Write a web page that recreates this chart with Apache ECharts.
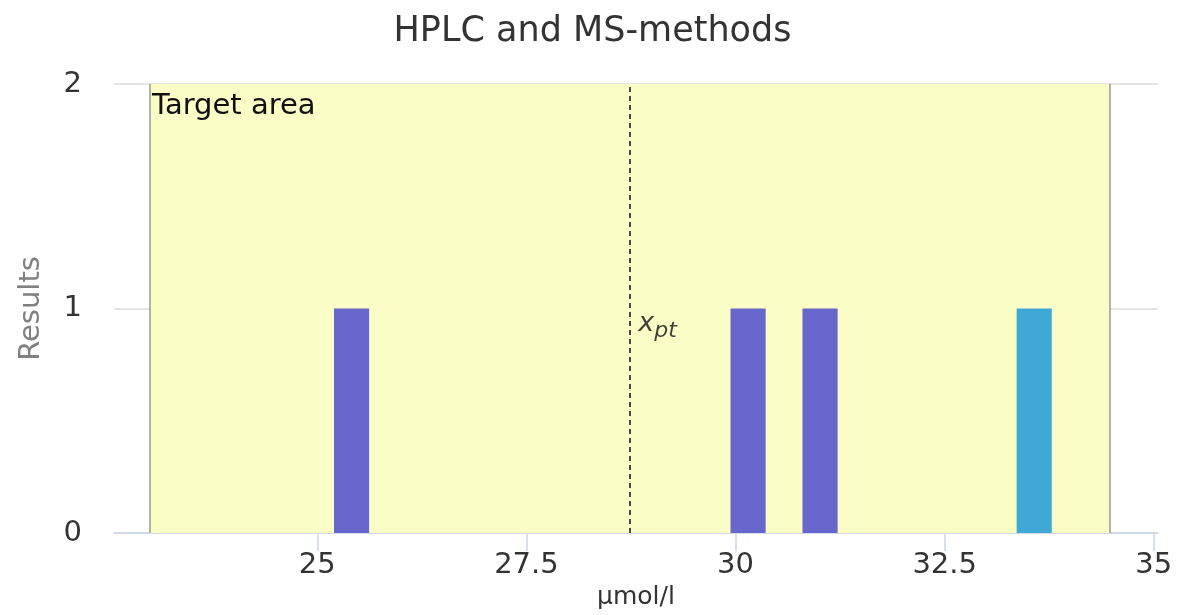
<!DOCTYPE html>
<html>
<head>
<meta charset="utf-8">
<title>HPLC and MS-methods</title>
<script src="https://cdn.jsdelivr.net/npm/echarts@6/dist/echarts.min.js"></script>
<style>
  html, body { margin: 0; padding: 0; background: #fff; }
  #main { width: 1185px; height: 615px; }
</style>
</head>
<body>
<div id="main"></div>
<script>
// bar centres (µmol/l) and number of results in each
var barCenters = [25.41, 30.15, 31.01, 33.57];
var barCounts = [1, 1, 1, 1];
var barColors = ['#6666cc', '#6666cc', '#6666cc', '#40a8d4'];
var barWidthUnits = 0.42;

var targetArea = [23.0, 34.47];
var xpt = 28.73;
var xTicks = [25, 27.5, 30, 32.5, 35];

var barData = barCenters.map(function (c, i) {
  return { value: [c, barCounts[i]], itemStyle: { color: barColors[i] } };
});

var chart = echarts.init(document.getElementById('main'));

var option = {
  animation: false,
  textStyle: { fontFamily: 'DejaVu Sans' },
  title: {
    text: 'HPLC and MS-methods',
    left: 'center',
    top: 9,
    textStyle: { fontSize: 35, fontWeight: 'normal', color: '#333', fontFamily: 'DejaVu Sans' }
  },
  grid: { left: 114, right: 27, top: 84, bottom: 80 },
  xAxis: {
    type: 'value',
    min: 22.57,
    max: 35.05,
    name: 'µmol/l',
    nameLocation: 'middle',
    nameGap: 52,
    nameTextStyle: { fontSize: 25, color: '#333' },
    axisLine: { show: true, lineStyle: { color: '#ccd6eb', width: 1.5 } },
    axisTick: { show: true, customValues: xTicks, length: 18, lineStyle: { color: '#ccd6eb', width: 1.5 } },
    axisLabel: {
      customValues: xTicks,
      fontSize: 29,
      color: '#333',
      margin: 18,
      formatter: function (v) { return String(v); }
    },
    splitLine: { show: false }
  },
  yAxis: {
    type: 'value',
    min: 0,
    max: 2,
    interval: 1,
    name: 'Results',
    nameLocation: 'middle',
    nameGap: 68,
    nameTextStyle: { fontSize: 29, color: '#808080' },
    axisLine: { show: false },
    axisTick: { show: false },
    axisLabel: { fontSize: 29, color: '#333', margin: 32 },
    splitLine: { lineStyle: { color: '#dcdcdc', width: 1.5 } }
  },
  series: [
    {
      type: 'custom',
      z: 3,
      data: barData,
      renderItem: function (params, api) {
        var c = api.value(0);
        var n = api.value(1);
        var p0 = api.coord([c - barWidthUnits / 2, n]);
        var p1 = api.coord([c + barWidthUnits / 2, 0]);
        return {
          type: 'rect',
          shape: { x: p0[0], y: p0[1], width: p1[0] - p0[0], height: p1[1] - p0[1] },
          style: api.style()
        };
      },
      markArea: {
        silent: true,
        itemStyle: { color: '#fafdc6', borderWidth: 0 },
        label: { show: false },
        data: [[{ xAxis: targetArea[0], yAxis: 2 }, { xAxis: targetArea[1], yAxis: 0 }]]
      },
      markLine: {
        silent: true,
        symbol: 'none',
        label: { show: false },
        data: [
          { xAxis: xpt, lineStyle: { color: '#111', type: [5, 4], width: 1.5 } },
          { xAxis: targetArea[0], lineStyle: { color: '#999', type: 'solid', width: 1.5 } },
          { xAxis: targetArea[1], lineStyle: { color: '#999', type: 'solid', width: 1.5 } }
        ]
      }
    },
    {
      type: 'scatter',
      symbolSize: 0,
      z: 5,
      silent: true,
      data: [[targetArea[0], 2]],
      label: {
        show: true,
        position: [2, 8],
        align: 'left',
        verticalAlign: 'top',
        formatter: 'Target area',
        fontSize: 29,
        color: '#111',
        opacity: 1
      }
    },
    {
      type: 'scatter',
      symbolSize: 0,
      z: 5,
      silent: true,
      data: [[xpt, 1]],
      label: {
        show: true,
        position: [9, -4],
        align: 'left',
        verticalAlign: 'top',
        formatter: '{x|x}{s|pt}',
        rich: {
          x: { fontSize: 27, fontStyle: 'italic', color: '#111', fontFamily: 'DejaVu Sans' },
          s: { fontSize: 22, fontStyle: 'italic', color: '#111', padding: [16, 0, 0, 0], fontFamily: 'DejaVu Sans' }
        }
      }
    }
  ]
};

chart.setOption(option);
</script>
</body>
</html>
